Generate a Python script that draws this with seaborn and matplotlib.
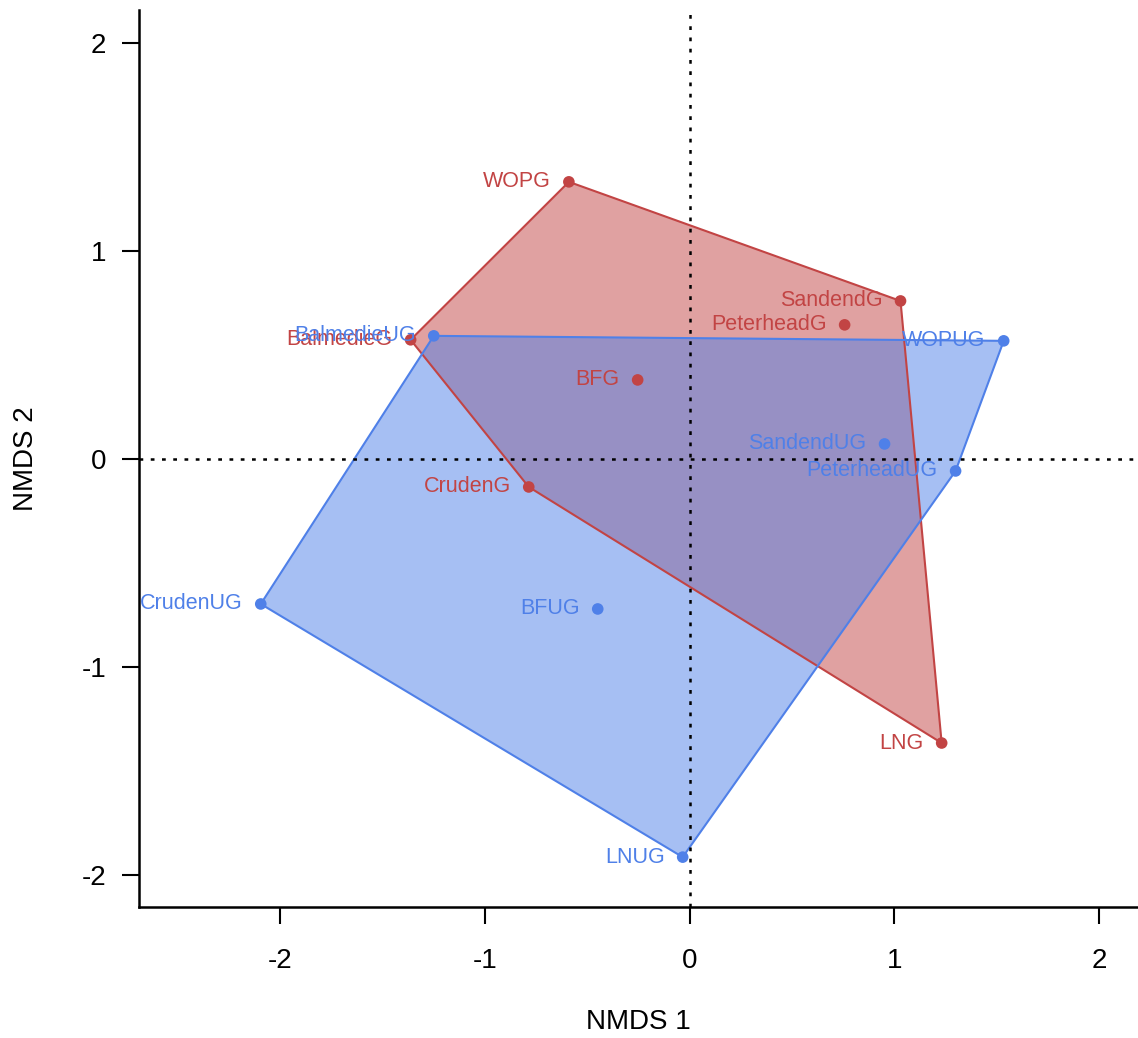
import numpy as np
import pandas as pd
import matplotlib
matplotlib.use('Agg')
import matplotlib.pyplot as plt
import seaborn as sns

# site scores
sites_g = ['WOPG', 'SandendG', 'PeterheadG', 'BalmedieG', 'BFG', 'CrudenG', 'LNG']
nmds1_g = [-0.59, 1.03, 0.757, -1.363, -0.254, -0.786, 1.231]
nmds2_g = [1.333, 0.76, 0.645, 0.573, 0.38, -0.135, -1.367]

sites_ug = ['BalmedieUG', 'WOPUG', 'SandendUG', 'PeterheadUG', 'CrudenUG', 'BFUG', 'LNUG']
nmds1_ug = [-1.25, 1.534, 0.952, 1.299, -2.095, -0.449, -0.034]
nmds2_ug = [0.592, 0.568, 0.072, -0.058, -0.698, -0.722, -1.916]

groups = ['G', 'UG']
palette = {'G': '#C24444', 'UG': '#4F80E8'}

ticks = [-2, -1, 0, 1, 2]
tick_labels = ['-2', '-1', '0', '1', '2']


def hull(xs, ys):
    pts = sorted(zip(xs, ys))
    def cross(o, a, b):
        return (a[0] - o[0]) * (b[1] - o[1]) - (a[1] - o[1]) * (b[0] - o[0])
    lower, upper = [], []
    for p in pts:
        while len(lower) >= 2 and cross(lower[-2], lower[-1], p) <= 0:
            lower.pop()
        lower.append(p)
    for p in reversed(pts):
        while len(upper) >= 2 and cross(upper[-2], upper[-1], p) <= 0:
            upper.pop()
        upper.append(p)
    return np.array(lower[:-1] + upper[:-1])


df = pd.DataFrame({
    'site': sites_g + sites_ug,
    'NMDS1': nmds1_g + nmds1_ug,
    'NMDS2': nmds2_g + nmds2_ug,
    'group': ['G'] * len(sites_g) + ['UG'] * len(sites_ug),
})

sns.set_style('white')
plt.rcParams['font.family'] = ['Liberation Sans', 'DejaVu Sans']

fig = plt.figure(figsize=(11.38, 10.38), dpi=100)
ax = fig.add_axes([0.1221, 0.1262, 0.8779, 0.8642])

for g in groups:
    sub = df[df['group'] == g]
    h = hull(sub['NMDS1'], sub['NMDS2'])
    ax.fill(h[:, 0], h[:, 1], facecolor=palette[g], alpha=0.5,
            edgecolor='none', zorder=1)
    ax.fill(h[:, 0], h[:, 1], facecolor='none', edgecolor=palette[g],
            lw=1.5, zorder=2)

ax.axvline(0, color='black', ls=(0, (1.5, 3)), lw=1.8, zorder=3)
ax.axhline(0, color='black', ls=(0, (1.5, 3)), lw=1.8, zorder=3)

sns.scatterplot(data=df, x='NMDS1', y='NMDS2', hue='group', palette=palette,
                s=70, edgecolor='none', legend=False, ax=ax, zorder=4)

for _, r in df.iterrows():
    ax.annotate(r['site'], (r['NMDS1'], r['NMDS2']), xytext=(-13, 0),
                textcoords='offset points', ha='right', va='center',
                fontsize=15.5, color=palette[r['group']], zorder=5,
                clip_on=True)

ax.set_xlim(-2.69, 2.19)
ax.set_ylim(-2.156, 2.16)
ax.set_xticks(ticks)
ax.set_xticklabels(tick_labels)
ax.set_yticks(ticks)
ax.set_yticklabels(tick_labels)
ax.tick_params(axis='both', direction='out', length=12.5, width=1.5,
               labelsize=20, left=True, bottom=True,
               color='black', labelcolor='black')
ax.tick_params(axis='x', pad=17)
ax.tick_params(axis='y', pad=11)
ax.set_xlabel('NMDS 1', fontsize=20, labelpad=25, color='black')
ax.set_ylabel('NMDS 2', fontsize=20, labelpad=31, color='black')

for s in ['top', 'right']:
    ax.spines[s].set_visible(False)
for s in ['left', 'bottom']:
    ax.spines[s].set_linewidth(1.8)
    ax.spines[s].set_color('black')

fig.savefig('out.png', dpi=100)
